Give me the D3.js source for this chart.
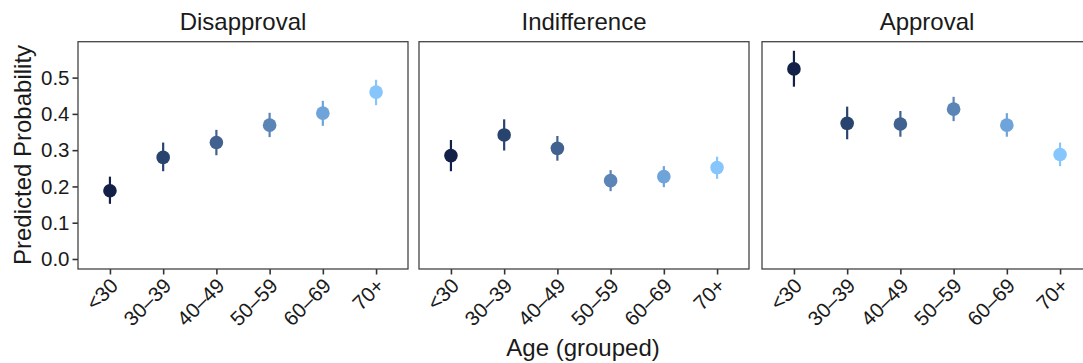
<!DOCTYPE html>
<html><head><meta charset="utf-8">
<script src="https://cdn.jsdelivr.net/npm/d3@7"></script>
<style>body{margin:0;background:#fff}svg{display:block}text{font-family:"Liberation Sans",Arial,sans-serif;fill:#1a1a1a}</style>
</head><body>
<svg id="c" width="1083" height="363"></svg>
<script>
const ages = ["<30","30–39","40–49","50–59","60–69","70+"];
const panels = ["Disapproval","Indifference","Approval"];
const disapprovalEst = [0.188,0.280,0.321,0.369,0.402,0.460];
const disapprovalLo  = [0.152,0.242,0.286,0.336,0.367,0.424];
const disapprovalHi  = [0.227,0.321,0.356,0.403,0.436,0.494];
const indifferenceEst = [0.285,0.342,0.305,0.216,0.227,0.252];
const indifferenceLo  = [0.242,0.299,0.271,0.187,0.198,0.221];
const indifferenceHi  = [0.328,0.385,0.339,0.245,0.256,0.282];
const approvalEst = [0.524,0.374,0.372,0.413,0.369,0.288];
const approvalLo  = [0.475,0.330,0.337,0.380,0.337,0.256];
const approvalHi  = [0.574,0.420,0.408,0.447,0.402,0.321];
const yTicks = [0,0.1,0.2,0.3,0.4,0.5];
const colors = ["#132149","#29436f","#41618f","#5a85b6","#6fa4db","#87c6fd"];

const series = [
  {est:disapprovalEst, lo:disapprovalLo, hi:disapprovalHi},
  {est:indifferenceEst, lo:indifferenceLo, hi:indifferenceHi},
  {est:approvalEst, lo:approvalLo, hi:approvalHi}
];

const svg = d3.select("#c");
const plotTop = 41.7, plotBottom = 269;
const panelX = [78, 419, 762], panelW = 330;
const y = d3.scaleLinear().domain([-0.0276, 0.599]).range([plotBottom, plotTop]);

panels.forEach((name, i) => {
  const x0 = panelX[i];
  const x = d3.scalePoint().domain(ages).range([x0, x0 + panelW]).padding(0.6);
  const g = svg.append("g");
  g.append("text").attr("x", x0 + panelW/2).attr("y", 30).attr("text-anchor","middle")
    .style("font-size","24px").text(name);
  const xa = g.append("g").attr("transform", `translate(0,${plotBottom})`)
    .call(d3.axisBottom(x).tickSize(5.5).tickPadding(4));
  xa.select(".domain").remove();
  xa.selectAll(".tick line").attr("stroke","#333").attr("stroke-width",1.6);
  xa.selectAll(".tick text").style("font-size","20.5px").attr("fill","#1a1a1a")
    .attr("text-anchor","end").attr("dy",null).attr("y",null)
    .attr("transform","translate(9,18) rotate(-45)");
  if (i === 0) {
    const ya = g.append("g").attr("transform", `translate(${x0},0)`)
      .call(d3.axisLeft(y).tickValues(yTicks).tickFormat(d3.format(".1f")).tickSize(5.5).tickPadding(3));
    ya.select(".domain").remove();
    ya.selectAll(".tick line").attr("stroke","#333").attr("stroke-width",1.6);
    ya.selectAll(".tick text").style("font-size","20.5px").attr("fill","#1a1a1a");
  }
  const s = series[i];
  const pts = ages.map((a, j) => ({a, e:s.est[j], lo:s.lo[j], hi:s.hi[j], c:colors[j]}));
  g.selectAll("line.err").data(pts).join("line").attr("class","err")
    .attr("x1", d => x(d.a)).attr("x2", d => x(d.a))
    .attr("y1", d => y(d.lo)).attr("y2", d => y(d.hi))
    .attr("stroke", d => d.c).attr("stroke-width", 2.2);
  g.selectAll("circle").data(pts).join("circle")
    .attr("cx", d => x(d.a)).attr("cy", d => y(d.e)).attr("r", 6.8)
    .attr("fill", d => d.c);
  g.append("rect").attr("x", x0).attr("y", plotTop).attr("width", panelW).attr("height", plotBottom - plotTop)
    .attr("fill","none").attr("stroke","#444").attr("stroke-width",1.3);
});

svg.append("text").attr("transform","translate(31,155) rotate(-90)").attr("text-anchor","middle")
  .style("font-size","24px").text("Predicted Probability");
svg.append("text").attr("x", 583).attr("y", 356).attr("text-anchor","middle")
  .style("font-size","24px").text("Age (grouped)");
</script>
</body></html>
